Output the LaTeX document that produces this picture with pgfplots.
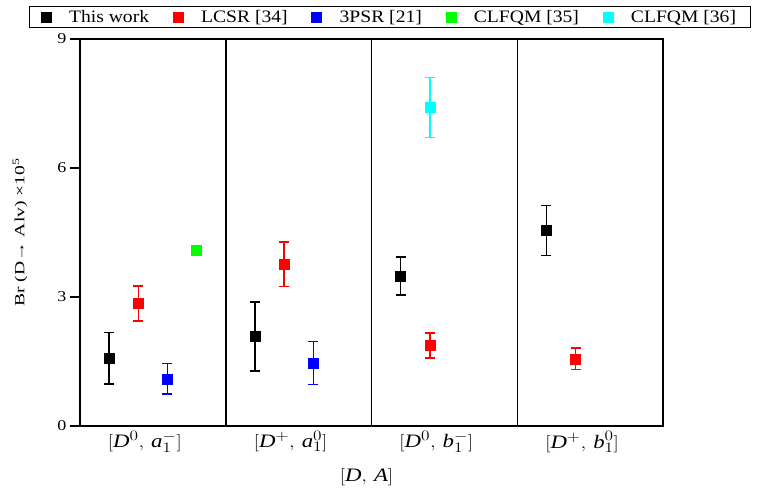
\documentclass[border=0pt]{standalone}
\usepackage{fontspec}
\setmainfont{Liberation Serif}
\newfontfamily\legfont{Liberation Serif}[FakeStretch=1.12]
\newfontfamily\tickfont{Liberation Serif}[FakeStretch=1.2]
\newfontfamily\ylabfont{Liberation Serif}[FakeStretch=1.4]
\usepackage{graphicx}
\usepackage{pgfplots}
\usepackage{pgfplotstable}
\pgfplotsset{compat=1.18}

\definecolor{cgreen}{RGB}{0,255,0}
\definecolor{ccyan}{RGB}{0,255,255}

\pgfplotstableread{
x y e
0.2 1.58 0.60
1.2 2.08 0.80
2.2 3.49 0.44
3.2 4.55 0.58
}\thiswork
\pgfplotstableread{
x y e
0.4 2.85 0.41
1.4 3.76 0.52
2.4 1.87 0.29
3.4 1.56 0.25
}\lcsr
\pgfplotstableread{
x y e
0.6 1.10 0.36
1.6 1.46 0.50
}\tpsr
\pgfplotstableread{
x y
0.8 4.10
}\clfqmA
\pgfplotstableread{
x y e
2.4 7.41 0.70
}\clfqmB

\begin{document}
\begin{tikzpicture}
\begin{axis}[
  name=ax,
  scale only axis, width=583pt, height=387pt,
  xmin=0, xmax=4, ymin=0, ymax=9,
  axis line style={line width=1.5pt},
  xtick={0.5,1.5,2.5,3.5},
  xticklabels={
    {\scalebox{1.2}[1]{$[\textit{D}^{0},\,\textit{a}_{1}^{-}]$}},
    {\scalebox{1.2}[1]{$[\textit{D}^{+},\,\textit{a}_{1}^{0}]$}},
    {\scalebox{1.2}[1]{$[\textit{D}^{0},\,\textit{b}_{1}^{-}]$}},
    {\scalebox{1.2}[1]{$[\textit{D}^{+},\,\textit{b}_{1}^{0}]$}}},
  xtick pos=bottom,
  x tick style={draw=none},
  extra x ticks={1,2,3},
  extra x tick labels={},
  extra x tick style={grid=major, major grid style={line width=1.5pt, black}},
  ytick={0,3,6,9},
  ytick pos=left,
  tick align=outside,
  major tick length=10pt,
  y tick style={line width=1.3pt, black},
  yticklabel style={font=\tickfont\fontsize{15}{15}\selectfont, /pgf/number format/assume math mode=true},
  xticklabel style={font=\fontsize{19}{20}\selectfont, yshift=8pt, xshift=-8pt},
  xlabel={\scalebox{1.2}[1]{$[\textit{D},\,\textit{A}]$}},
  xlabel style={font=\fontsize{19}{20}\selectfont, at={(axis description cs:0.5,0)}, anchor=center, yshift=-51pt, xshift=-5pt},
  ylabel={Br (D→ Alv) ×10\textsuperscript{5}},
  ylabel style={font=\ylabfont\fontsize{14}{14}\selectfont, at={(axis description cs:0,0.5)}, anchor=center, yshift=60pt},
  legend columns=5,
  legend style={at={(0.531,1.0284)}, anchor=south, draw=black, line width=0.8pt,
    font=\legfont\fontsize{17.5}{17.5}\selectfont, inner xsep=12pt, inner ysep=2pt,
    /tikz/every odd column/.append style={column sep=16pt},
    /tikz/every even column/.append style={column sep=22pt}},
  legend image code/.code={\draw[#1] plot coordinates {(0pt,0pt)};},
  every axis plot/.append style={only marks, mark=square*, mark size=5pt,
    mark options={line width=0.4pt},
    error bars/y dir=both, error bars/y explicit,
    error bars/error bar style={line width=1.4pt},
    error bars/error mark options={rotate=90, mark size=5pt, line width=1.4pt}},
]
\addplot[black] table[x=x, y=y, y error=e] {\thiswork};
\addlegendentry{This work}
\addplot[red] table[x=x, y=y, y error=e] {\lcsr};
\addlegendentry{LCSR [34]}
\addplot[blue] table[x=x, y=y, y error=e] {\tpsr};
\addlegendentry{3PSR [21]}
\addplot[cgreen, error bars/y dir=none] table[x=x, y=y] {\clfqmA};
\addlegendentry{CLFQM [35]}
\addplot[ccyan, error bars/error bar style={ccyan, line width=1.4pt}, error bars/error mark options={ccyan, rotate=90, mark size=5pt, line width=1.4pt}] table[x=x, y=y, y error=e] {\clfqmB};
\addlegendentry{CLFQM [36]}
\end{axis}
\pgfresetboundingbox
\path ([shift={(-80pt,-65pt)}]ax.south west) rectangle ++(758pt,491pt);
\end{tikzpicture}
\end{document}
